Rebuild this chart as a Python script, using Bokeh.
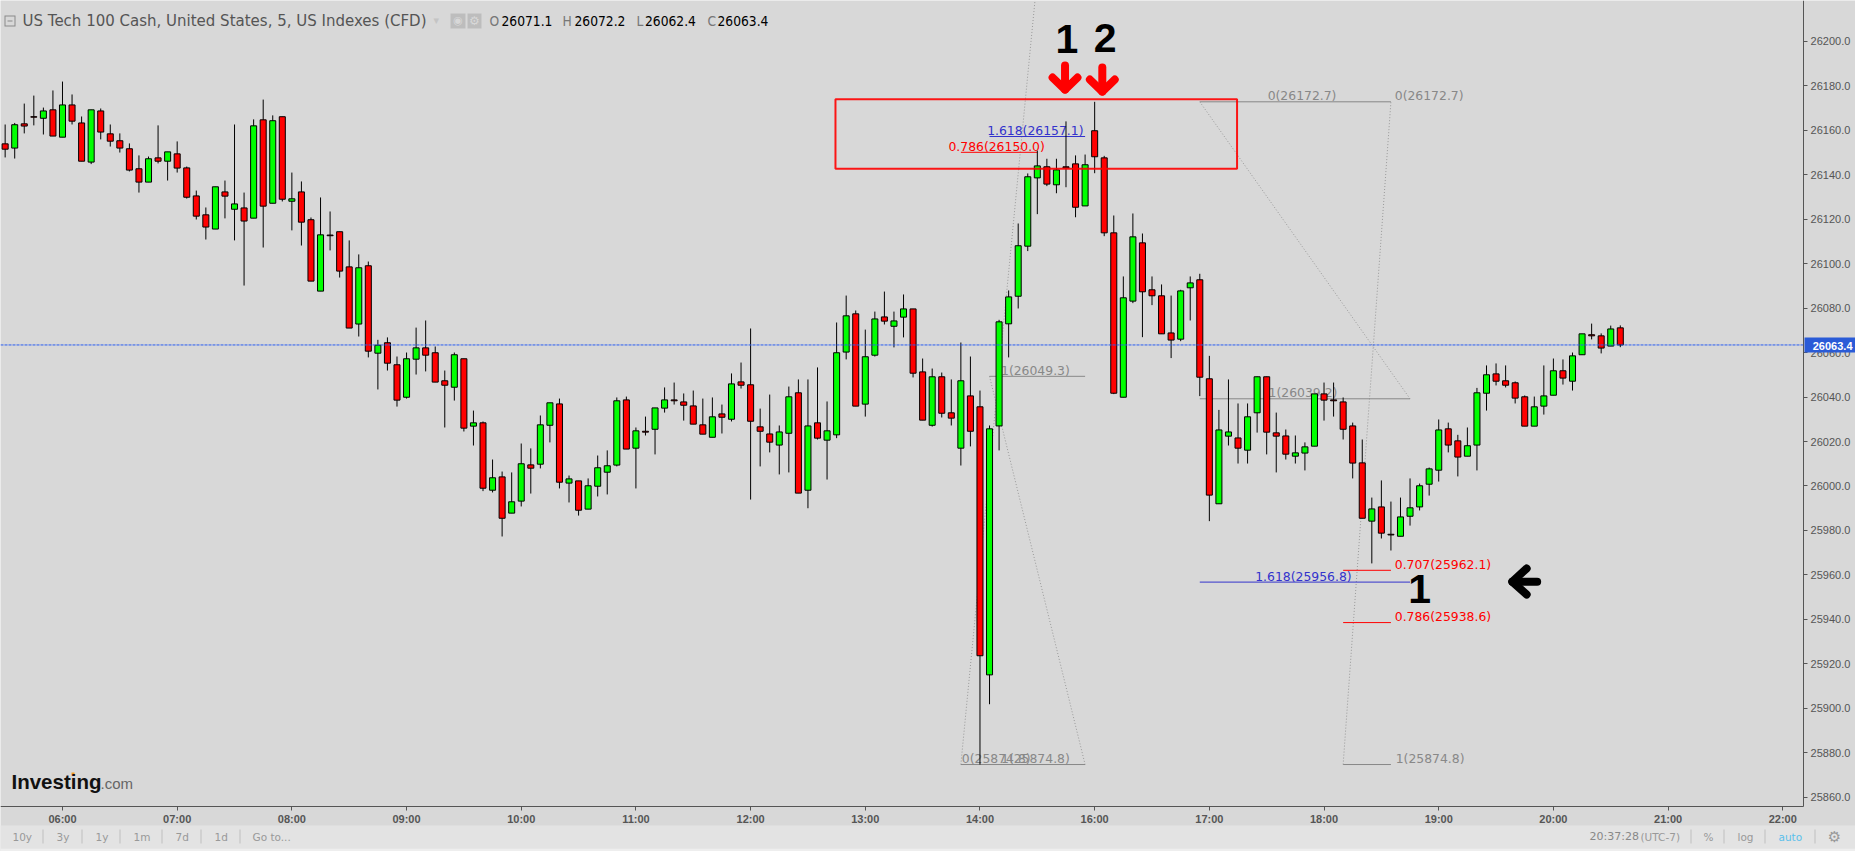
from bokeh.plotting import figure
from bokeh.embed import file_html
from bokeh.resources import INLINE
from bokeh.core.properties import value
from bokeh.models import (Label, BoxAnnotation, FixedTicker, NumeralTickFormatter, Range1d)

TITLE = "US Tech 100 Cash, United States, 5, US Indexes (CFD)"
OHLC_LABEL = [("O", "26071.1"), ("H", "26072.2"), ("L", "26062.4"), ("C", "26063.4")]
LAST_PRICE = 26063.4

# Five-minute bars, first bar 05:30
opens = [
 26153.8,26151.9,26162.8,26166.0,26165.3,26169.1,26156.8,26171.3,26163.2,26145.6,
 26168.6,26158.3,26155.2,26151.6,26142.6,26136.6,26147.5,26146.0,26149.3,26143.0,
 26130.4,26121.9,26115.5,26132.2,26124.4,26125.0,26120.4,26164.6,26127.1,26166.0,
 26128.0,26132.2,26119.7,26087.6,26112.8,26114.3,26098.5,26072.8,26099.0,26059.7,
 26064.4,26054.5,26039.9,26057.0,26062.1,26059.9,26047.3,26044.4,26057.2,26026.9,
 26028.4,25998.1,26004.1,25987.8,25993.2,26009.5,26009.8,26027.3,26036.9,26001.3,
 26002.3,25989.6,25999.9,26006.2,26009.4,26038.7,26017.0,26024.6,26025.5,26035.0,
 26038.7,26037.8,26036.0,26027.5,26021.9,26032.4,26030.0,26046.8,26045.5,26026.6,
 26023.4,26018.4,26023.7,26041.9,25998.1,26028.4,26020.6,26023.0,26060.2,26077.4,
 26036.8,26058.8,26076.0,26071.8,26075.9,26079.6,26051.3,26027.3,26049.1,26032.9,
 26017.0,26040.5,26035.6,25915.1,26027.0,26072.9,26085.3,26107.8,26138.5,26143.5,
 26135.4,26143.5,26144.8,26125.9,26159.7,26147.5,26113.8,26039.9,26083.1,26109.3,
 26088.2,26085.5,26068.8,26066.0,26089.1,26092.7,26048.2,25992.0,26022.4,26021.6,
 26016.1,26032.9,26049.1,26023.9,26022.5,26013.4,26014.8,26017.9,26041.4,26038.7,
 26037.8,26027.0,26010.4,25984.2,25990.6,25978.3,25977.4,25986.4,25990.6,26000.8,
 26007.1,26025.7,26020.3,26013.4,26018.4,26041.7,26050.4,26047.3,26046.4,26040.1,
 26026.9,26035.9,26040.8,26051.8,26047.1,26059.0,26068.0,26067.5,26062.9,26071.1]
highs = [
 26162.5,26163.2,26171.9,26175.5,26170.1,26177.8,26181.8,26176.0,26166.1,26169.1,
 26169.7,26162.5,26158.5,26154.0,26148.6,26148.1,26162.1,26150.2,26154.9,26143.6,
 26132.8,26125.2,26134.5,26137.3,26162.5,26131.9,26164.8,26173.7,26166.6,26166.0,
 26140.9,26136.9,26120.7,26129.7,26123.4,26114.3,26110.4,26104.1,26100.9,26065.7,
 26066.8,26058.2,26060.0,26071.2,26074.4,26062.7,26051.9,26060.0,26057.2,26033.9,
 26029.0,26011.9,26006.5,26006.1,26019.1,26016.9,26031.7,26037.4,26039.3,26004.7,
 26002.3,26003.4,26013.7,26016.0,26039.8,26040.2,26026.3,26031.2,26035.1,26044.3,
 26046.5,26041.6,26042.9,26039.3,26039.8,26036.6,26050.6,26055.5,26070.8,26034.8,
 26041.1,26027.2,26044.7,26047.9,26047.9,26053.3,26038.0,26073.5,26085.6,26078.9,
 26070.3,26078.4,26087.4,26078.4,26086.1,26079.6,26057.3,26052.8,26051.0,26047.9,
 26064.5,26058.2,26042.9,26027.2,26074.7,26087.9,26118.0,26140.5,26150.8,26147.1,
 26147.1,26163.9,26148.6,26149.0,26172.7,26148.4,26121.6,26094.2,26122.5,26113.5,
 26094.2,26090.6,26085.6,26088.2,26094.2,26095.4,26058.5,26034.2,26047.9,26037.1,
 26037.1,26049.2,26049.2,26033.0,26025.4,26022.7,26019.6,26041.4,26046.5,26046.5,
 26039.8,26028.5,26020.9,25994.8,26002.5,25993.0,25994.8,26003.4,26001.1,26008.3,
 26029.9,26028.5,26023.0,26026.3,26044.1,26054.2,26055.1,26054.2,26047.0,26040.7,
 26040.2,26054.2,26057.3,26056.9,26060.0,26068.4,26073.0,26068.6,26072.1,26072.2]
lows = [
 26147.7,26147.2,26158.5,26162.1,26158.0,26157.3,26156.8,26162.5,26146.0,26144.7,
 26155.8,26152.6,26149.9,26141.4,26131.9,26136.6,26145.0,26137.3,26140.9,26129.2,
 26119.8,26110.8,26115.5,26120.3,26110.4,26090.1,26120.4,26107.2,26127.1,26127.9,
 26114.9,26108.1,26092.1,26087.6,26105.9,26093.7,26071.0,26067.2,26057.8,26043.4,
 26051.9,26035.7,26039.3,26050.1,26051.5,26046.7,26026.3,26038.4,26024.5,26018.2,
 25997.7,25997.1,25977.3,25987.8,25990.8,25996.6,26007.9,26019.6,25998.9,25992.6,
 25986.7,25989.6,25995.3,25996.2,26008.8,26016.6,25998.9,26022.7,26014.2,26033.0,
 26036.6,26029.4,26027.8,26023.3,26021.9,26023.6,26029.0,26043.8,25993.9,26008.8,
 26015.1,26005.2,26006.1,25996.8,25990.0,26020.9,26002.9,26021.5,26056.9,26035.9,
 26031.2,26058.2,26072.6,26062.3,26066.8,26048.8,26029.6,26026.7,26030.8,26027.2,
 26009.2,26017.8,25874.8,25901.9,26016.0,26057.8,26079.8,26105.6,26122.2,26134.8,
 26131.6,26134.3,26120.8,26125.9,26140.6,26112.3,26041.3,26039.9,26082.2,26066.9,
 26081.3,26068.4,26057.5,26065.1,26074.4,26040.4,25984.2,25992.0,26018.2,26010.1,
 26010.1,26024.0,26014.2,26006.1,26011.9,26010.1,26007.0,26017.9,26029.4,26031.2,
 26020.9,26003.4,25985.5,25965.2,25976.4,25971.0,25977.4,25982.2,25989.0,25995.7,
 26002.0,26015.1,26004.3,26013.4,26007.0,26033.9,26045.2,26044.3,26037.1,26026.9,
 26026.9,26032.1,26040.8,26045.6,26042.9,26059.0,26065.9,26059.6,26062.9,26062.4]
closes = [
 26151.4,26162.4,26161.8,26165.8,26168.6,26157.3,26171.3,26164.0,26146.0,26169.1,
 26159.1,26155.0,26151.9,26142.0,26136.6,26147.1,26146.0,26150.2,26142.9,26129.8,
 26121.3,26116.4,26134.5,26130.3,26126.8,26119.1,26161.9,26125.8,26164.2,26128.9,
 26129.1,26118.6,26092.1,26112.9,26112.5,26096.6,26071.0,26098.1,26060.6,26063.3,
 26055.2,26038.6,26057.2,26062.1,26058.8,26046.7,26045.3,26059.0,26026.0,26028.4,
 25999.0,26003.7,25985.5,25992.9,26010.0,26008.0,26027.5,26037.4,26001.7,26003.2,
 25989.1,26000.1,26008.2,26009.1,26038.3,26016.6,26024.8,26024.2,26035.1,26038.7,
 26038.3,26036.3,26027.8,26023.3,26031.1,26030.9,26045.9,26045.3,26029.1,26024.6,
 26019.7,26024.3,26040.1,25996.8,26027.0,26021.5,26024.8,26059.9,26076.5,26035.9,
 26058.1,26075.1,26074.1,26074.2,26079.6,26050.7,26029.6,26049.1,26032.7,26030.5,
 26047.3,26024.6,25923.7,26025.7,26073.8,26085.0,26108.0,26139.0,26143.9,26135.7,
 26142.1,26143.0,26125.3,26144.4,26148.0,26113.8,26041.7,26084.6,26112.0,26087.3,
 26085.5,26068.4,26065.6,26087.7,26091.3,26048.9,25995.9,26025.2,26024.3,26017.0,
 26031.1,26049.1,26024.2,26022.4,26014.3,26014.9,26017.6,26041.4,26038.6,26038.3,
 26025.5,26010.3,25985.5,25989.7,25978.8,25978.0,25986.1,25990.2,26000.1,26007.7,
 26025.2,26018.4,26013.0,26018.1,26041.9,26050.0,26047.1,26045.3,26039.5,26026.9,
 26035.6,26040.5,26051.8,26048.5,26058.5,26068.4,26067.5,26062.0,26070.6,26063.4]

time_ticks = [6, 18, 30, 42, 54, 66, 78, 90, 102, 114, 126, 138, 150, 162, 174, 186]
time_labels = ["06:00","07:00","08:00","09:00","10:00","11:00","12:00","13:00",
               "14:00","16:00","17:00","18:00","19:00","20:00","21:00","22:00"]
price_ticks = list(range(25860, 26201, 20))

# Fibonacci drawings: bar index start, end, price, colour
fib_x0 = [100, 140, 103, 103, 100, 125, 125, 125, 140, 140]
fib_x1 = [113, 145, 113, 113, 108, 145, 147, 147, 145, 145]
fib_p  = [25874.8, 25874.8, 26049.3, 26157.1, 26150.0, 26172.7, 26039.2, 25956.8, 25962.1, 25938.6]
fib_c  = ["#888888","#888888","#888888","#3333cc","#ff0000","#888888","#888888","#3333cc","#ff0000","#ff0000"]
# trend connectors
dot_x0 = [100, 103, 125, 140]
dot_p0 = [25874.8, 26049.3, 26172.7, 25874.8]
dot_x1 = [108, 113, 147, 145]
dot_p1 = [26229.0, 25874.8, 26039.2, 26172.7]
# level labels
lab_x = [100.1, 104.2, 104.2, 102.75, 98.7, 132.1, 145.4, 132.2, 130.8, 145.4, 145.4, 145.5]
lab_p = [25874.8, 25874.8, 26049.3, 26157.1, 26150.0, 26172.7, 26172.7, 26039.2, 25956.8, 25962.1, 25938.6, 25874.8]
lab_t = ["0(25874.8)","1(25874.8)","1(26049.3)","1.618(26157.1)","0.786(26150.0)","0(26172.7)",
         "0(26172.7)","1(26039.2)","1.618(25956.8)","0.707(25962.1)","0.786(25938.6)","1(25874.8)"]
lab_c = ["#888888","#888888","#888888","#3333cc","#ff0000","#888888",
         "#888888","#888888","#3333cc","#ff0000","#ff0000","#888888"]

W, H = 1855, 851
BG = "#d8d8d8"
X_LEFT, X_AXIS, X_RIGHT = -0.4865, 188.18, 193.61       # left edge, price axis, page edge
P_TOP, P_AXIS, P_BOTTOM = 26218.24, 25855.93, 25835.70  # top edge, time axis, page edge

p = figure(width=W, height=H, output_backend="svg", toolbar_location=None,
           x_range=Range1d(X_LEFT, X_RIGHT), y_range=Range1d(P_BOTTOM, P_TOP),
           y_axis_location="right", min_border=0,
           background_fill_color=BG, border_fill_color=BG, outline_line_color=None,
           styles={"position": "absolute", "left": "0", "top": "0"})
p.grid.visible = False

for ax in (p.xaxis[0], p.yaxis[0]):
    ax.axis_line_color = "#555555"
    ax.axis_line_width = 1
    ax.major_tick_line_color = "#555555"
    ax.major_tick_out = 4
    ax.major_tick_in = 0
    ax.minor_tick_line_color = None
    ax.major_label_text_color = "#555555"
    ax.major_label_text_font = "Liberation Sans"
    ax.major_label_text_font_size = "11px"
    ax.major_label_standoff = 3

p.xaxis[0].fixed_location = P_AXIS
p.xaxis[0].bounds = (X_LEFT, X_AXIS)
p.xaxis[0].ticker = FixedTicker(ticks=time_ticks)
p.xaxis[0].major_label_overrides = dict(zip(time_ticks, time_labels))
p.xaxis[0].major_label_text_font_style = "bold"
p.yaxis[0].fixed_location = X_AXIS
p.yaxis[0].bounds = (P_AXIS, P_TOP)
p.yaxis[0].ticker = FixedTicker(ticks=price_ticks)
p.yaxis[0].formatter = NumeralTickFormatter(format="0.0")

# drawings under the candles
p.segment(dot_x0, dot_p0, dot_x1, dot_p1, line_color="#999999", line_dash="1 2", line_width=1)
p.segment(fib_x0, fib_p, fib_x1, fib_p, line_color=fib_c, line_width=1)
p.text(lab_x, lab_p, text=lab_t, text_color=lab_c, text_font=value("DejaVu Sans"),
       text_font_size=value("12.4px"), text_baseline="middle", text_align="left", y_offset=-6)

# candles
bars = list(range(len(opens)))
colors = ["#00ff00" if c > o else "#ff0000" for o, c in zip(opens, closes)]
p.segment(bars, highs, bars, lows, line_color="black", line_width=1)
p.vbar(x=bars, width=0.63, top=[max(a, b) for a, b in zip(opens, closes)],
       bottom=[min(a, b) for a, b in zip(opens, closes)],
       fill_color=colors, line_color="black", line_width=1)

# last price
p.segment([X_LEFT], [LAST_PRICE], [X_AXIS], [LAST_PRICE], line_color="#2a5cf0", line_dash="3 1", line_width=1)

# red zone
p.quad(left=[86.88], right=[128.9], top=[26173.9], bottom=[26142.6],
       fill_color=None, line_color="#ff0000", line_width=2, line_alpha=0.9)

# hand-drawn marks
p.text([111.1, 115.1, 148.0], [26200.9, 26201.6, 25953.9], text=["1", "2", "1"], text_color="black",
       text_font=value("Liberation Sans"), text_font_style="bold", text_font_size=value("41px"),
       text_align="center", text_baseline="middle")
ARW = dict(line_width=8, line_cap="round", line_join="round")
p.multi_line([[110.9, 110.9], [109.6, 110.9, 112.2], [114.8, 114.8], [113.5, 114.8, 116.1]],
             [[26189.0, 26178.2], [26183.6, 26178.2, 26183.6], [26188.1, 26177.3], [26182.7, 26177.3, 26182.7]],
             line_color="#ff0000", **ARW)
p.multi_line([[157.7, 160.3], [159.2, 157.7, 159.2]],
             [[25957.0, 25957.0], [25962.9, 25957.0, 25951.2]],
             line_color="black", **ARW)


def box(l, t, r, b, color, alpha=1.0):
    p.add_layout(BoxAnnotation(left=l, right=r, top=t, bottom=b, left_units="canvas", right_units="canvas",
                               top_units="canvas", bottom_units="canvas", fill_color=color, fill_alpha=alpha,
                               line_color=None, level="annotation"))


def lab(x, y, text, color="#555555", size="11px", font="Liberation Sans", style="normal", align="left"):
    p.add_layout(Label(x=x, y=y, x_units="canvas", y_units="canvas", text=text, text_color=color,
                       text_font=font, text_font_size=size, text_font_style=style, text_align=align,
                       text_baseline="middle", level="overlay"))


# last price flag on the axis
box(1804, 337, W, 352, "#2a5bd7")
lab(W - 3, 345, f"{LAST_PRICE:.1f}", color="white", size="11px", style="bold", align="right")

# header
HFONT = "DejaVu Sans Condensed"
box(4, 15, 15, 26, "#8a8a8a")
box(5, 16, 14, 25, BG)
box(7, 20, 12, 21, "#8a8a8a")
lab(22, 20, TITLE, size="15px", font="DejaVu Sans", color="#555555")
lab(433, 20, "\u25be", size="11px", font="DejaVu Sans", color="#c4c4c4")
box(450, 13, 465, 28, "#bdbdbd")
box(467, 13, 481, 28, "#bdbdbd")
lab(457.5, 20, "\u25c9", size="11px", font="DejaVu Sans", color="#d8d8d8", align="center")
lab(474, 20, "\u2699", size="12px", font="DejaVu Sans", color="#d8d8d8", align="center")
for (letter, val), xl, xv in zip(OHLC_LABEL, [489, 562, 636, 707], [501, 574, 644.5, 717]):
    lab(xl, 20, letter, size="13.7px", font=HFONT, color="#777777")
    lab(xv, 20, val, size="13.7px", font=HFONT, color="#000000")

# logo
lab(11, 781, "Investing", color="#111111", size="20.5px", style="bold")
lab(100, 783, ".com", color="#666666", size="15px")
box(71, 772, 74, 775, "#f39c1f")

# bottom bar
box(0, 825, W, 848, "#e3e3e3")
box(0, 848, W, H, "#eeeeee")
BFONT = "DejaVu Sans"
for x, t in zip([12, 56, 95, 133, 175, 214, 252], ["10y", "3y", "1y", "1m", "7d", "1d", "Go to..."]):
    lab(x, 836, t, color="#999999", size="10.5px", font=BFONT)
for x in [42, 81, 119, 161, 200, 239, 1690, 1723, 1764, 1814]:
    box(x, 829, x + 1, 843, "#c0c0c0")
lab(1589, 836, "20:37:28", color="#888888", size="11px", font=BFONT)
lab(1640, 836, "(UTC-7)", color="#999999", size="10.5px", font=BFONT)
lab(1703, 836, "%", color="#999999", size="10.5px", font=BFONT)
lab(1737, 836, "log", color="#999999", size="10.5px", font=BFONT)
lab(1778, 836, "auto", color="#5bc0eb", size="10.5px", font=BFONT)
lab(1834, 836, "\u2699", color="#999999", size="15px", font=BFONT, align="center")

open("out.html", "w").write(file_html(p, INLINE))
